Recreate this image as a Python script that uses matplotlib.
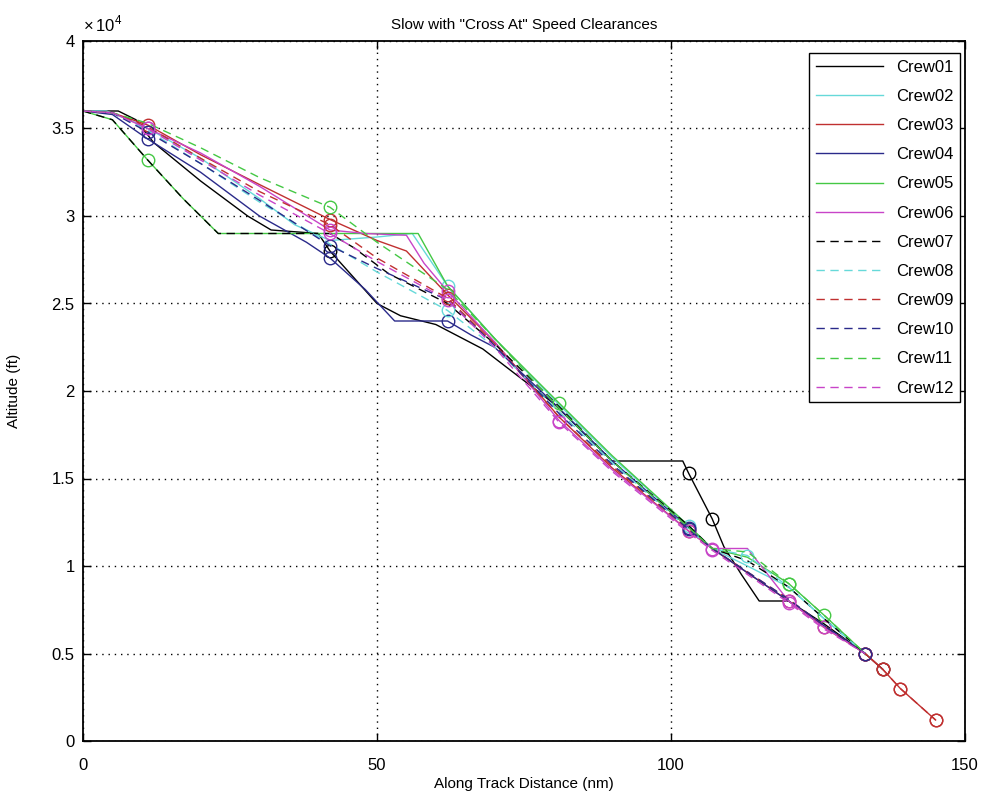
import matplotlib
matplotlib.use("Agg")
import matplotlib.pyplot as plt

plt.rcParams['font.family'] = ['Liberation Sans', 'DejaVu Sans']
plt.rcParams['mathtext.fontset'] = 'custom'
plt.rcParams['mathtext.rm'] = 'Liberation Sans'

# along track distance (nm) / altitude (ft) for each crew, marker = index of circled points
crew01_x = [0, 6, 9, 12, 20, 28, 32, 40, 42, 46, 50, 54, 60, 68, 80, 90, 102, 103, 105, 107, 109, 112, 115, 120, 126, 133, 136]
crew01_y = [36000, 36000, 35500, 34200, 32000, 30000, 29200, 29000, 28000, 26500, 25000, 24300, 23800, 22400, 19300, 16000, 16000, 15300, 14000, 12700, 11100, 9500, 8000, 8000, 6700, 5000, 4100]
crew01_mk = [8, 17, 19, 25, 26]

crew02_x = [0, 4, 10, 20, 30, 36, 42, 50, 56, 58, 60, 62, 70, 81, 90, 103, 107, 113, 120, 126, 133]
crew02_y = [36000, 36000, 35200, 33300, 31000, 29500, 28600, 28800, 29000, 28000, 27000, 26000, 23000, 19200, 16200, 12300, 11000, 10000, 8800, 7000, 5000]
crew02_mk = [11, 15]

crew03_x = [0, 5, 11, 20, 30, 42, 50, 55, 62, 70, 81, 90, 103, 107, 120, 126, 133, 136, 139, 145]
crew03_y = [36000, 35900, 35200, 33500, 31800, 29800, 28600, 28000, 25500, 22800, 18500, 15600, 12000, 11000, 8000, 6500, 5000, 4100, 3000, 1200]
crew03_mk = [2, 5, 8, 12, 14, 15, 16, 17, 18, 19]

crew04_x = [0, 5, 11, 20, 30, 38, 42, 48, 53, 62, 66, 70, 81, 90, 103, 107, 120, 126, 133]
crew04_y = [36000, 35800, 34400, 32500, 30000, 28500, 27600, 25800, 24000, 24000, 23200, 22500, 19000, 16000, 12200, 11000, 8000, 6600, 5000]
crew04_mk = [2, 6, 9, 14, 18]

crew05_x = [0, 5, 11, 17, 23, 40, 50, 57, 62, 70, 81, 90, 103, 107, 113, 120, 126, 133]
crew05_y = [36000, 35500, 33200, 31000, 29000, 29000, 29000, 29000, 26000, 23000, 19300, 16300, 12300, 11000, 10500, 9000, 7200, 5000]
crew05_mk = [2, 10, 15, 16]

crew06_x = [0, 5, 11, 20, 30, 42, 48, 55, 58, 62, 70, 81, 90, 103, 107, 113, 120, 126, 133]
crew06_y = [36000, 35900, 35000, 33600, 31700, 29200, 29000, 28900, 27300, 25700, 22800, 18300, 15500, 12000, 11000, 11000, 8000, 6500, 5000]
crew06_mk = [2, 5, 9, 11, 13, 14, 16, 17, 18]

crew07_x = [0, 5, 11, 17, 23, 42, 46, 52, 62, 70, 81, 90, 103, 107, 113, 120, 126, 133]
crew07_y = [36000, 35500, 33200, 31000, 29000, 29000, 28200, 26700, 25000, 22700, 19100, 16000, 12300, 11000, 10300, 8800, 7000, 5000]
crew07_mk = []

crew08_x = [0, 5, 11, 20, 30, 42, 50, 62, 70, 81, 90, 103, 107, 113, 120, 126, 133]
crew08_y = [36000, 35900, 34900, 33000, 30800, 28400, 26800, 24600, 22500, 18800, 15900, 12100, 11000, 10600, 8800, 7000, 5000]
crew08_mk = [7, 13]

crew09_x = [0, 5, 11, 20, 30, 42, 50, 62, 70, 81, 90, 103, 107, 120, 126, 133, 136, 139, 145]
crew09_y = [36000, 35900, 35100, 33300, 31400, 29500, 27600, 25300, 22700, 18500, 15700, 12100, 11000, 8100, 6600, 5000, 4100, 3000, 1200]
crew09_mk = [5, 7, 15, 16, 17, 18]

crew10_x = [0, 5, 11, 20, 30, 42, 50, 62, 70, 81, 90, 103, 107, 120, 126, 133]
crew10_y = [36000, 35900, 34800, 33000, 30900, 28300, 27000, 25200, 22600, 18700, 15800, 12100, 11000, 8100, 6600, 5000]
crew10_mk = [2, 5, 11, 15]

crew11_x = [0, 5, 11, 20, 30, 42, 50, 62, 70, 81, 90, 103, 107, 113, 120, 126, 133]
crew11_y = [36000, 35900, 35300, 33900, 32200, 30500, 28500, 25800, 23000, 19000, 16000, 12200, 11000, 10800, 9000, 7200, 5000]
crew11_mk = [5, 14]

crew12_x = [0, 5, 11, 20, 30, 42, 50, 62, 70, 81, 90, 103, 107, 120, 126, 133]
crew12_y = [36000, 35900, 35000, 33200, 31200, 29000, 27400, 25200, 22500, 18200, 15400, 11900, 10900, 7900, 6400, 5000]
crew12_mk = [2, 5, 7, 9, 12, 13]

crews = [
    ("Crew01", crew01_x, crew01_y, crew01_mk, '#000000', '-'),
    ("Crew02", crew02_x, crew02_y, crew02_mk, '#66d9d9', '-'),
    ("Crew03", crew03_x, crew03_y, crew03_mk, '#c03030', '-'),
    ("Crew04", crew04_x, crew04_y, crew04_mk, '#2a2a8a', '-'),
    ("Crew05", crew05_x, crew05_y, crew05_mk, '#44c844', '-'),
    ("Crew06", crew06_x, crew06_y, crew06_mk, '#c844c8', '-'),
    ("Crew07", crew07_x, crew07_y, crew07_mk, '#000000', '--'),
    ("Crew08", crew08_x, crew08_y, crew08_mk, '#66d9d9', '--'),
    ("Crew09", crew09_x, crew09_y, crew09_mk, '#c03030', '--'),
    ("Crew10", crew10_x, crew10_y, crew10_mk, '#2a2a8a', '--'),
    ("Crew11", crew11_x, crew11_y, crew11_mk, '#44c844', '--'),
    ("Crew12", crew12_x, crew12_y, crew12_mk, '#c844c8', '--'),
]

y_ticks = [0, 5000, 10000, 15000, 20000, 25000, 30000, 35000, 40000]
y_tick_labels = ['0', '0.5', '1', '1.5', '2', '2.5', '3', '3.5', '4']
x_ticks = [0, 50, 100, 150]

fig = plt.figure(figsize=(9.84, 8.01), dpi=100)
ax = fig.add_axes([83 / 984, 1 - 741 / 801, 882 / 984, 700 / 801])

for name, xs, ys, mk, color, ls in crews:
    if ls == '--':
        ax.plot(xs, ys, color=color, lw=1.0, dashes=(6, 4), label=name)
    else:
        ax.plot(xs, ys, color=color, lw=1.0, label=name)
    if mk:
        ax.plot([xs[i] for i in mk], [ys[i] for i in mk], 'o', ms=9, mfc='none',
                mec=color, mew=1.0)

ax.set_xlim(0, 150)
ax.set_ylim(0, 40000)
ax.set_xticks(x_ticks)
ax.set_yticks(y_ticks)
ax.set_yticklabels(y_tick_labels)
ax.tick_params(direction='in', length=6, width=1, top=True, right=True,
               labelsize=12)
ax.tick_params(axis='x', pad=12)
ax.tick_params(axis='y', pad=6)
for s in ax.spines.values():
    s.set_linewidth(1.3)
ax.grid(True, linestyle=(0, (1, 3.5)), color='black', linewidth=1.0)

ax.set_title('Slow with "Cross At" Speed Clearances', fontsize=11, pad=9)
ax.set_xlabel('Along Track Distance (nm)', fontsize=11, labelpad=3)
ax.set_ylabel('Altitude (ft)', fontsize=11, labelpad=22)
ax.text(0.0, 1.01, r'$\times\,10^{4}$', transform=ax.transAxes, fontsize=12,
        ha='left', va='bottom')

leg = ax.legend(loc='upper right', bbox_to_anchor=(877 / 882, 688 / 700),
                borderaxespad=0, fontsize=12, handlelength=4, labelspacing=0.85,
                fancybox=False, edgecolor='black', framealpha=1)
leg.get_frame().set_linewidth(1.0)

fig.savefig('out.png', dpi=100)
